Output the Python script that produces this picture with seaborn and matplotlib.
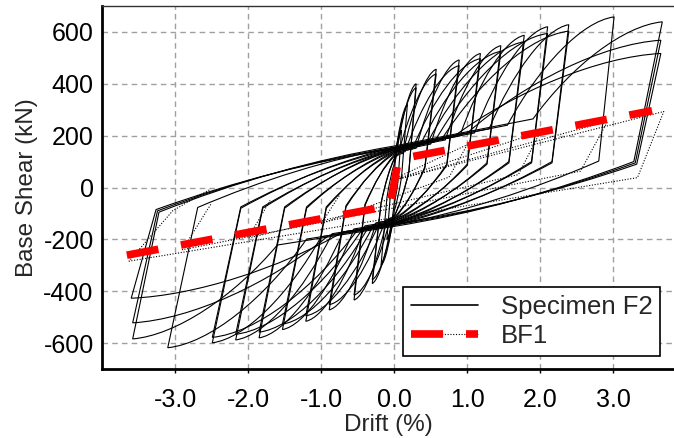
import matplotlib
matplotlib.use("Agg")
import matplotlib.pyplot as plt
from matplotlib.path import Path
from matplotlib.patches import PathPatch
from matplotlib.lines import Line2D
import seaborn as sns

# Specimen F2 cycles (drift in %, base shear in kN)
pos_drift = [0.10, 0.18, 0.30, 0.30, 0.575, 0.575, 0.89, 0.89, 1.18, 1.18, 1.46, 1.46,
             1.78, 1.78, 2.10, 2.10, 2.39, 2.39, 3.01, 3.67, 3.65, 3.65]
pos_shear = [220, 320, 400, 385, 456, 438, 492, 470, 517, 497, 547, 525,
             587, 562, 620, 594, 628, 603, 658, 639, 568, 517]
neg_drift = [-0.10, -0.18, -0.30, -0.30, -0.55, -0.55, -0.89, -0.89, -1.21, -1.21, -1.53, -1.53,
             -1.85, -1.85, -2.17, -2.17, -2.49, -2.49, -3.10, -3.58, -3.58, -3.60]
neg_shear = [-200, -300, -370, -355, -434, -415, -472, -452, -516, -495, -548, -527,
             -580, -558, -588, -566, -599, -578, -618, -584, -522, -427]
# drift where the reloading branch leaves the pinched band
pos_knee = [0.0, 0.0, 0.02, 0.0, 0.12, 0.05, 0.30, 0.15, 0.50, 0.25, 0.70, 0.35,
            0.90, 0.45, 1.10, 0.55, 1.30, 0.65, 1.55, 1.90, 1.00, 0.80]
neg_knee = [0.0, 0.0, -0.02, 0.0, -0.10, -0.05, -0.25, -0.12, -0.40, -0.20, -0.55, -0.28,
            -0.70, -0.35, -0.85, -0.42, -1.00, -0.50, -1.20, -1.60, -0.90, -0.70]
# end of unloading branches
pos_unload_drift = [0.05, 0.10, 0.20, 0.20, 0.42, 0.42, 0.72, 0.72, 1.00, 1.00, 1.27, 1.27,
                    1.57, 1.57, 1.88, 1.88, 2.16, 2.16, 2.80, 3.28, 3.30, 3.32]
pos_unload_shear = [20, 40, 60, 60, 80, 75, 90, 85, 90, 85, 95, 90,
                    100, 95, 100, 95, 100, 95, 102, 100, 95, 90]
neg_unload_drift = [-0.05, -0.10, -0.18, -0.18, -0.40, -0.40, -0.66, -0.66, -0.93, -0.93, -1.20, -1.20,
                    -1.50, -1.50, -1.80, -1.80, -2.10, -2.10, -2.69, -3.22, -3.24, -3.26]
neg_unload_shear = [-20, -40, -60, -60, -70, -65, -75, -70, -80, -75, -80, -75,
                    -80, -75, -80, -75, -80, -75, -77, -95, -90, -85]
# shear where the branches cross zero drift
up_cross = [60, 90, 110, 110, 125, 120, 135, 130, 140, 135, 145, 140,
            150, 145, 150, 145, 155, 150, 155, 160, 155, 150]
low_cross = [-60, -90, -110, -110, -120, -115, -125, -120, -130, -125, -135, -130,
             -140, -135, -140, -135, -145, -140, -145, -150, -145, -140]
UP_BAND_SLOPE = 55    # kN per % drift
LOW_BAND_SLOPE = 45

# BF1 model: backbone and hysteresis
bf1_drift = [-3.66, -0.06, 0.06, 3.53]
bf1_shear = [-261, -71, 109, 296]
bf1_loop_drift = [
    [0.0, 1.0, 0.75, 0.0, -1.0, -0.75, 0.0],
    [0.0, 2.0, 1.70, 0.0, -2.0, -1.70, 0.0],
    [0.0, 2.92, 2.55, 0.0, -2.90, -2.50, 0.0],
    [0.0, 3.69, 3.33, 0.0, -3.63, -3.03, -2.51, 0.0],
]
bf1_loop_shear = [
    [95, 165, 40, -90, -140, -30, 95],
    [85, 215, 50, -80, -195, -50, 85],
    [80, 255, 63, -75, -240, -60, 80],
    [80, 293, 38, -75, -284, -89, -6, 80],
]

sns.set_theme(style="white")
plt.rcParams["font.family"] = ["Liberation Sans", "DejaVu Sans"]

fig, ax = plt.subplots(figsize=(6.74, 4.38), dpi=100)
fig.subplots_adjust(left=102 / 674, right=1.0, top=1 - 6 / 438, bottom=1 - 369 / 438)


def rise(a, p):
    """Control points of a branch leaving the band at a and rounding over at peak p."""
    dx, dy = p[0] - a[0], p[1] - a[1]
    return (a[0] + 0.3 * dx, a[1] + 0.55 * dy), (a[0] + 0.7 * dx, p[1] - 0.04 * dy)


def specimen_loop(i):
    up0, lo0 = (0, up_cross[i]), (0, low_cross[i])
    kp = (pos_knee[i], up_cross[i] + UP_BAND_SLOPE * pos_knee[i])
    kn = (neg_knee[i], low_cross[i] + LOW_BAND_SLOPE * neg_knee[i])
    pk = (pos_drift[i], pos_shear[i])
    nk = (neg_drift[i], neg_shear[i])
    pu = (pos_unload_drift[i], pos_unload_shear[i])
    nu = (neg_unload_drift[i], neg_unload_shear[i])
    c1, c2 = rise(kp, pk)
    c3, c4 = rise(kn, nk)
    # slight sag of the pinched bands
    b1 = (pu[0] / 2, lo0[1] + 0.3 * (pu[1] - lo0[1]))
    b2 = (nu[0] / 2, up0[1] - 0.3 * (up0[1] - nu[1]))
    verts = [up0, kp, c1, c2, pk, pu, b1, lo0, kn, c3, c4, nk, nu, b2, up0]
    codes = [Path.MOVETO, Path.LINETO, Path.CURVE4, Path.CURVE4, Path.CURVE4,
             Path.LINETO, Path.CURVE3, Path.CURVE3, Path.LINETO,
             Path.CURVE4, Path.CURVE4, Path.CURVE4,
             Path.LINETO, Path.CURVE3, Path.CURVE3]
    return Path(verts, codes)


for i in range(len(pos_drift)):
    ax.add_patch(PathPatch(specimen_loop(i), fill=False, edgecolor="black",
                           linewidth=0.8, zorder=3))

for xs, ys in zip(bf1_loop_drift, bf1_loop_shear):
    sns.lineplot(x=xs, y=ys, sort=False, color="black", linewidth=0.8,
                 linestyle=(0, (1, 1.5)), ax=ax, zorder=3)

sns.lineplot(x=bf1_drift, y=bf1_shear, sort=False, color="red", linewidth=5.5,
             linestyle=(0, (4.2, 3.0)), dash_capstyle="butt", ax=ax, zorder=4)

ax.set_xlim(-4.0, 3.83)
ax.set_ylim(-700, 700)
xticks = [-3.0, -2.0, -1.0, 0.0, 1.0, 2.0, 3.0]
yticks = [-600, -400, -200, 0, 200, 400, 600]
ax.set_xticks(xticks)
ax.set_xticklabels([f"{t:.1f}" for t in xticks])
ax.set_yticks(yticks)
ax.set_yticklabels([str(t) for t in yticks])
ax.tick_params(axis="both", labelsize=18, direction="out", length=3, width=1,
               bottom=True, left=False, colors="black")
ax.tick_params(axis="x", pad=11)
ax.tick_params(axis="y", pad=3)
ax.set_xlabel("Drift (%)", fontsize=17.5, labelpad=1)
ax.set_ylabel("Base Shear (kN)", fontsize=17.5, labelpad=4)

ax.grid(True, color="#a0a0a0", linestyle=(0, (4, 3)), linewidth=1.0)
ax.set_axisbelow(True)
for side in ["left", "bottom"]:
    ax.spines[side].set_linewidth(2)
    ax.spines[side].set_color("black")
ax.spines["top"].set_linewidth(1)
ax.spines["top"].set_color("#333333")
ax.spines["right"].set_visible(False)

h_spec = Line2D([], [], color="black", linewidth=1.2)
h_dot = Line2D([], [], color="black", linewidth=0.8, linestyle=(0, (1, 1.5)))
h_red = Line2D([], [], color="red", linewidth=5.5, linestyle=(0, (4.2, 3.0)),
               dash_capstyle="butt")
leg = ax.legend([h_spec, (h_dot, h_red)], ["Specimen F2", "BF1"],
                loc="lower right", bbox_to_anchor=(0.976, 0.036),
                fontsize=18.5, frameon=True, fancybox=False, handlelength=2.6,
                handletextpad=0.9, borderpad=0.3, labelspacing=0.2, borderaxespad=0)
leg.get_frame().set_edgecolor("black")
leg.get_frame().set_linewidth(1.2)
leg.get_frame().set_alpha(1)
leg.set_zorder(10)

fig.savefig("out.png", dpi=100)
